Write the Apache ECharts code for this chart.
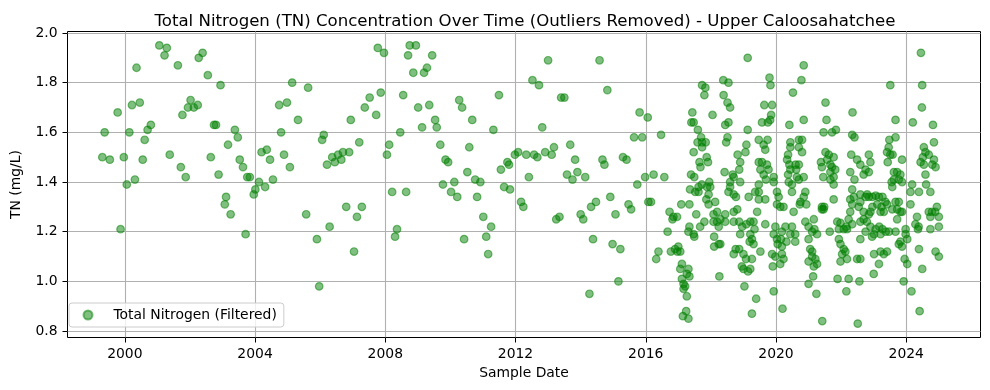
<!DOCTYPE html>
<html><head><meta charset="utf-8">
<script src="https://cdn.jsdelivr.net/npm/echarts@6/dist/echarts.min.js"></script>
<style>html,body{margin:0;padding:0;background:#fff}#c{width:990px;height:390px}</style>
</head><body><div id="c"></div>
<script>
const chartTitle = 'Total Nitrogen (TN) Concentration Over Time (Outliers Removed) - Upper Caloosahatchee';
const xAxisName = 'Sample Date';
const yAxisName = 'TN (mg/L)';
const seriesName = 'Total Nitrogen (Filtered)';
const xTicks = [2000, 2004, 2008, 2012, 2016, 2020, 2024];
const yTicks = [0.8, 1.0, 1.2, 1.4, 1.6, 1.8, 2.0];

// sample dates as decimal years
const sampleDates = [
2001.06,2001.29,2001.22,2001.63,2000.36,2002.39,2002.27,2002.55,2002.94,2002.02,
2001.94,2002.12,2002.24,2001.77,2000.46,2000.22,1999.78,1999.38,2000.14,2000.80,
2000.70,2000.61,1999.31,1999.54,1999.97,2000.55,2001.38,2001.72,2001.87,2002.64,
2002.88,2000.06,2000.31,1999.87,2002.74,2002.80,2003.11,2003.07,2003.25,2003.17,
2003.38,2003.47,2003.53,2003.63,2003.76,2003.84,2004.12,2004.01,2003.96,2004.31,
2004.55,2004.20,2004.36,2004.46,2004.89,2005.07,2004.80,2004.74,2004.98,2005.32,
2005.14,2005.63,2003.71,2005.57,2005.90,2006.29,2005.97,2006.06,2006.11,2006.21,
2006.37,2006.45,2006.55,2006.65,2006.70,2006.89,2006.94,2007.20,2007.37,2007.52,
2006.80,2007.13,2007.28,2007.04,2007.86,2007.72,2007.77,2007.96,2008.75,2008.94,
2008.70,2009.44,2008.86,2009.19,2009.28,2008.55,2009.01,2009.35,2009.53,2009.13,
2009.58,2008.46,2008.12,2008.05,2009.69,2009.85,2009.93,2010.27,2010.36,2010.67,
2010.58,2011.32,2011.49,2010.52,2010.76,2010.92,2009.77,2010.12,2010.02,2010.21,
2010.82,2008.21,2008.64,2008.36,2008.30,2010.42,2011.01,2011.25,2011.10,2011.16,
2011.55,2011.75,2011.80,2011.65,2011.83,2011.98,2012.08,2012.33,2012.57,2012.67,
2012.91,2013.11,2013.18,2012.41,2012.17,2012.24,2013.00,2012.52,2012.72,2013.40,
2013.50,2012.82,2013.68,2013.83,2013.58,2013.75,2013.90,2014.14,2013.25,2013.35,
2014.00,2014.08,2014.32,2014.47,2014.58,2014.82,2014.67,2014.73,2014.91,2015.07,
2014.38,2014.98,2015.22,2015.16,2014.27,2015.30,2015.41,2015.47,2015.55,2015.81,
2016.06,2015.64,2015.89,2015.74,2015.98,2016.08,2016.47,2017.73,2017.83,2017.80,
2017.43,2018.05,2017.40,2017.47,2017.60,2017.70,2017.59,2017.73,2017.84,2017.73,
2017.47,2017.87,2017.65,2017.91,2017.68,2016.24,2016.57,2017.39,2017.49,2017.95,
2017.36,2017.52,2017.62,2017.72,2017.88,2017.98,2017.62,2017.93,2016.16,2017.09,
2017.34,2017.86,2017.93,2018.13,2016.73,2016.85,2016.82,2016.96,2017.55,2018.08,
2018.19,2018.08,2018.24,2016.67,2017.34,2017.31,2017.47,2017.49,2017.80,2017.67,
2018.10,2018.10,2018.24,2016.39,2016.32,2016.77,2016.90,2017.00,2017.06,2016.97,
2017.11,2017.06,2017.31,2017.26,2017.34,2017.11,2017.16,2017.21,2017.16,2017.26,
2018.26,2017.24,2017.14,2017.31,2019.13,2018.38,2018.54,2019.80,2019.83,2020.52,
2018.39,2018.51,2018.59,2019.64,2019.88,2019.85,2019.82,2018.44,2018.54,2019.57,
2019.75,2020.41,2019.13,2018.51,2018.47,2019.47,2019.74,2019.62,2019.67,2019.09,
2019.06,2018.82,2018.90,2018.87,2019.47,2019.57,2019.52,2019.72,2019.77,2018.67,
2018.70,2018.59,2018.90,2018.42,2019.62,2019.69,2019.93,2019.93,2020.44,2020.44,
2020.37,2020.34,2020.41,2020.44,2020.37,2020.39,2019.47,2018.59,2018.54,2018.70,
2018.77,2019.16,2019.36,2019.47,2019.47,2019.67,2020.03,2020.08,2020.03,2020.13,
2020.23,2020.49,2020.49,2018.19,2018.29,2018.70,2018.81,2019.42,2019.31,2018.44,
2018.44,2018.70,2018.87,2018.96,2019.09,2019.21,2019.34,2019.67,2020.54,2018.90,
2019.21,2019.26,2019.19,2019.31,2019.98,2019.93,2020.03,2020.05,2020.18,2020.15,
2020.18,2020.32,2020.59,2020.29,2020.49,2018.29,2018.76,2018.87,2018.70,2019.00,
2019.08,2019.26,2018.95,2019.00,2019.21,2019.14,2019.52,2019.88,2019.98,2020.18,
2020.23,2020.13,2019.90,2019.03,2019.93,2019.39,2020.20,2019.26,2020.85,2020.78,
2021.52,2022.35,2020.85,2021.55,2021.46,2021.72,2021.84,2022.34,2022.41,2020.70,
2020.80,2020.70,2020.80,2020.60,2020.70,2020.62,2020.64,2020.85,2020.70,2021.52,
2021.62,2021.77,2021.57,2021.38,2021.41,2021.67,2021.72,2021.82,2021.45,2021.67,
2021.67,2021.77,2022.31,2022.49,2022.28,2022.41,2022.85,2022.75,2022.85,2022.59,
2022.69,2020.90,2020.85,2020.75,2020.73,2020.93,2021.41,2021.41,2021.46,2021.48,
2021.77,2021.77,2022.34,2022.39,2022.28,2022.34,2022.59,2022.59,2022.54,2022.80,
2022.69,2022.85,2022.69,2022.59,2022.28,2022.23,2022.34,2022.18,2020.90,2021.00,
2021.16,2021.18,2021.11,2021.26,2020.59,2020.44,2021.65,2021.88,2021.98,2021.93,
2022.08,2022.16,2021.00,2021.05,2021.11,2021.00,2021.11,2021.21,2021.26,2021.16,
2021.93,2021.98,2022.08,2022.13,2022.03,2022.18,2021.98,2022.59,2022.49,2022.59,
2021.14,2021.00,2021.24,2021.89,2022.23,2022.16,2022.56,2021.42,2022.51,2024.45,
2023.51,2024.49,2024.48,2023.67,2024.20,2024.82,2023.67,2023.48,2023.46,2023.41,
2023.51,2023.58,2022.90,2023.43,2023.87,2023.62,2023.72,2023.82,2023.62,2023.77,
2023.87,2023.55,2024.54,2024.59,2024.51,2024.69,2024.85,2024.44,2024.54,2024.85,
2024.80,2024.90,2024.59,2024.18,2024.61,2023.57,2024.13,2024.39,2024.74,2022.75,
2022.85,2022.96,2023.06,2023.16,2023.27,2023.36,2023.11,2022.96,2022.90,2023.21,
2023.31,2023.41,2023.24,2023.67,2023.77,2023.72,2023.82,2023.87,2023.72,2023.57,
2024.13,2024.33,2024.28,2024.38,2024.36,2024.69,2024.79,2024.94,2024.89,2024.74,
2025.00,2024.74,2025.00,2022.79,2022.90,2022.75,2023.01,2023.06,2023.17,2023.27,
2023.37,2023.47,2023.21,2022.95,2023.67,2023.98,2023.98,2024.03,2023.77,2023.87,
2023.82,2023.01,2023.21,2023.31,2023.41,2023.16,2023.00,2023.95,2024.03,2024.39,
2024.90,2025.00,2024.49,2023.92,2024.16,2024.41
];

// TN concentration (mg/L)
const tnValues = [
1.95,1.94,1.91,1.87,1.86,1.92,1.90,1.83,1.79,1.73,
1.70,1.70,1.71,1.67,1.72,1.71,1.68,1.60,1.60,1.63,
1.61,1.57,1.50,1.49,1.50,1.49,1.51,1.46,1.42,1.50,
1.43,1.39,1.41,1.21,1.63,1.63,1.34,1.31,1.27,1.55,
1.61,1.58,1.49,1.46,1.42,1.42,1.40,1.37,1.35,1.38,
1.41,1.52,1.53,1.49,1.51,1.46,1.60,1.71,1.72,1.65,
1.80,1.78,1.19,1.27,1.17,1.22,0.98,1.57,1.59,1.47,
1.50,1.48,1.51,1.49,1.52,1.52,1.65,1.56,1.70,1.74,
1.30,1.26,1.30,1.12,1.76,1.67,1.94,1.92,1.95,1.95,
1.91,1.91,1.84,1.84,1.86,1.75,1.70,1.71,1.65,1.62,
1.62,1.60,1.55,1.51,1.55,1.49,1.48,1.73,1.70,1.65,
1.54,1.61,1.75,1.44,1.41,1.40,1.39,1.40,1.36,1.34,
1.34,1.36,1.36,1.21,1.18,1.17,1.26,1.22,1.18,1.11,
1.45,1.48,1.47,1.38,1.37,1.51,1.52,1.51,1.51,1.50,
1.52,1.51,1.54,1.42,1.32,1.30,1.89,1.81,1.79,1.74,
1.74,1.62,1.55,1.49,1.43,1.41,1.44,1.42,1.25,1.26,
1.27,1.25,1.30,1.32,1.89,1.77,1.49,1.47,1.34,1.27,
1.17,1.15,1.13,1.00,0.95,1.50,1.49,1.31,1.29,1.68,
1.66,1.58,1.58,1.39,1.42,1.32,1.59,1.79,1.78,1.75,
1.68,1.67,1.64,1.64,1.61,1.58,1.56,1.56,1.56,1.54,
1.52,1.50,1.48,1.48,1.46,1.43,1.42,1.43,1.42,1.40,
1.37,1.36,1.38,1.39,1.38,1.38,1.36,1.35,1.32,1.31,
1.31,1.33,1.31,1.32,1.28,1.26,1.25,1.26,1.27,1.27,
1.24,1.24,1.22,1.20,1.22,1.20,1.19,1.18,1.24,1.22,
1.18,1.14,1.15,1.12,1.09,1.12,1.13,1.14,1.12,1.12,
1.07,1.05,1.05,1.03,1.02,1.01,0.99,0.98,0.97,0.94,
1.02,0.88,0.86,0.85,1.90,1.81,1.80,1.82,1.79,1.76,
1.75,1.72,1.70,1.71,1.71,1.67,1.65,1.63,1.64,1.64,
1.64,1.63,1.61,1.58,1.56,1.57,1.57,1.55,1.53,1.55,
1.52,1.51,1.48,1.45,1.48,1.48,1.45,1.47,1.45,1.43,
1.42,1.40,1.40,1.44,1.43,1.41,1.42,1.40,1.56,1.54,
1.51,1.49,1.47,1.45,1.43,1.40,1.39,1.38,1.36,1.35,
1.34,1.34,1.36,1.36,1.33,1.33,1.36,1.34,1.31,1.30,
1.30,1.39,1.36,1.28,1.25,1.28,1.29,1.28,1.24,1.27,
1.24,1.24,1.24,1.22,1.23,1.24,1.21,1.23,1.28,1.19,
1.19,1.17,1.16,1.15,1.22,1.19,1.17,1.15,1.20,1.17,
1.14,1.16,1.16,1.22,1.22,1.15,1.13,1.13,1.11,1.11,
1.09,1.09,1.06,1.05,1.05,1.04,1.12,1.11,1.10,1.11,
1.09,1.07,1.06,0.98,0.96,0.93,0.89,0.87,1.87,1.81,
1.72,1.68,1.65,1.65,1.60,1.60,1.61,1.59,1.58,1.57,
1.57,1.54,1.52,1.47,1.47,1.45,1.42,1.42,1.41,1.52,
1.51,1.50,1.49,1.48,1.46,1.47,1.46,1.45,1.42,1.44,
1.41,1.42,1.51,1.49,1.44,1.41,1.51,1.45,1.44,1.47,
1.43,1.36,1.34,1.32,1.31,1.31,1.30,1.29,1.29,1.30,
1.33,1.39,1.37,1.34,1.33,1.31,1.35,1.32,1.30,1.35,
1.28,1.27,1.25,1.24,1.28,1.25,1.23,1.21,1.24,1.22,
1.25,1.21,1.20,1.19,1.19,1.19,1.20,1.24,1.235,1.21,
1.21,1.22,1.17,1.13,1.12,1.08,1.10,1.09,1.07,1.06,
1.17,1.15,1.13,1.12,1.11,1.09,1.08,1.17,1.09,1.09,
1.02,0.99,0.95,1.01,1.01,0.96,1.00,0.84,0.83,1.92,
1.79,1.79,1.70,1.65,1.64,1.63,1.58,1.57,1.54,1.52,
1.51,1.51,1.48,1.48,1.49,1.44,1.44,1.43,1.41,1.41,
1.40,1.40,1.54,1.52,1.50,1.51,1.56,1.48,1.47,1.49,
1.47,1.46,1.43,1.39,1.39,1.38,1.36,1.36,1.36,1.34,
1.34,1.34,1.345,1.34,1.34,1.32,1.31,1.30,1.28,1.28,
1.28,1.31,1.30,1.32,1.32,1.29,1.28,1.28,1.25,1.29,
1.31,1.26,1.23,1.22,1.21,1.28,1.28,1.30,1.28,1.26,
1.26,1.21,1.22,1.24,1.22,1.20,1.19,1.21,1.22,1.21,
1.20,1.20,1.19,1.18,1.20,1.21,1.19,1.17,1.15,1.14,
1.16,1.11,1.12,1.11,1.12,1.07,1.03,1.09,1.07,1.13,
1.12,1.10,1.05,1.00,0.96,0.88
];

const points = sampleDates.map((d, i) => [d, tnValues[i]]);
const FONT = 'DejaVu Sans';
const chart = echarts.init(document.getElementById('c'), null, {renderer: 'canvas'});
chart.setOption({
  animation: false,
  backgroundColor: '#ffffff',
  title: {
    text: chartTitle,
    left: 520, top: 8, textAlign: 'center',
    textStyle: {fontFamily: FONT, fontSize: 16.6, fontWeight: 'normal', color: '#000'}
  },
  legend: {
    data: [{name: seriesName, icon: 'circle'}],
    left: 69, top: 303, orient: 'vertical',
    itemWidth: 9, itemHeight: 9,
    padding: [5, 7, 5, 13.5],
    borderColor: '#cccccc', borderWidth: 1, borderRadius: 3,
    backgroundColor: 'rgba(255,255,255,0.8)',
    textStyle: {fontFamily: FONT, fontSize: 13.9, color: '#000', padding: [0, 0, 0, 16]}
  },
  grid: {
    left: 67.5, right: 9.5, top: 31.5, bottom: 52.5,
    show: true, borderColor: '#000', borderWidth: 1, backgroundColor: 'transparent'
  },
  xAxis: {
    type: 'value', min: 1998.24, max: 2026.28,
    name: xAxisName, nameLocation: 'middle', nameGap: 28,
    nameTextStyle: {fontFamily: FONT, fontSize: 13.9, color: '#000'},
    axisLine: {show: false},
    axisTick: {show: true, customValues: xTicks, length: 5, lineStyle: {color: '#000'}},
    axisLabel: {customValues: xTicks, margin: 10, fontFamily: FONT, fontSize: 13.9, color: '#000',
      formatter: v => String(Math.round(v))},
    splitLine: {show: true, lineStyle: {color: '#b0b0b0', width: 1.1}}
  },
  yAxis: {
    type: 'value', min: 0.774, max: 2.006,
    name: yAxisName, nameLocation: 'middle', nameGap: 44, nameRotate: 90,
    nameTextStyle: {fontFamily: FONT, fontSize: 13.9, color: '#000'},
    axisLine: {show: false},
    axisTick: {show: true, customValues: yTicks, length: 5, lineStyle: {color: '#000'}},
    axisLabel: {customValues: yTicks, margin: 10, fontFamily: FONT, fontSize: 13.9, color: '#000',
      formatter: v => v.toFixed(1)},
    splitLine: {show: true, lineStyle: {color: '#b0b0b0', width: 1.1}}
  },
  series: [{
    name: seriesName,
    type: 'scatter',
    data: points,
    symbol: 'circle',
    symbolSize: 7.6,
    itemStyle: {color: 'rgba(0,128,0,0.5)', borderColor: 'rgba(0,128,0,0.5)', borderWidth: 1.2, opacity: 1},
    emphasis: {disabled: true},
    silent: true
  }]
});
</script>
</body></html>
